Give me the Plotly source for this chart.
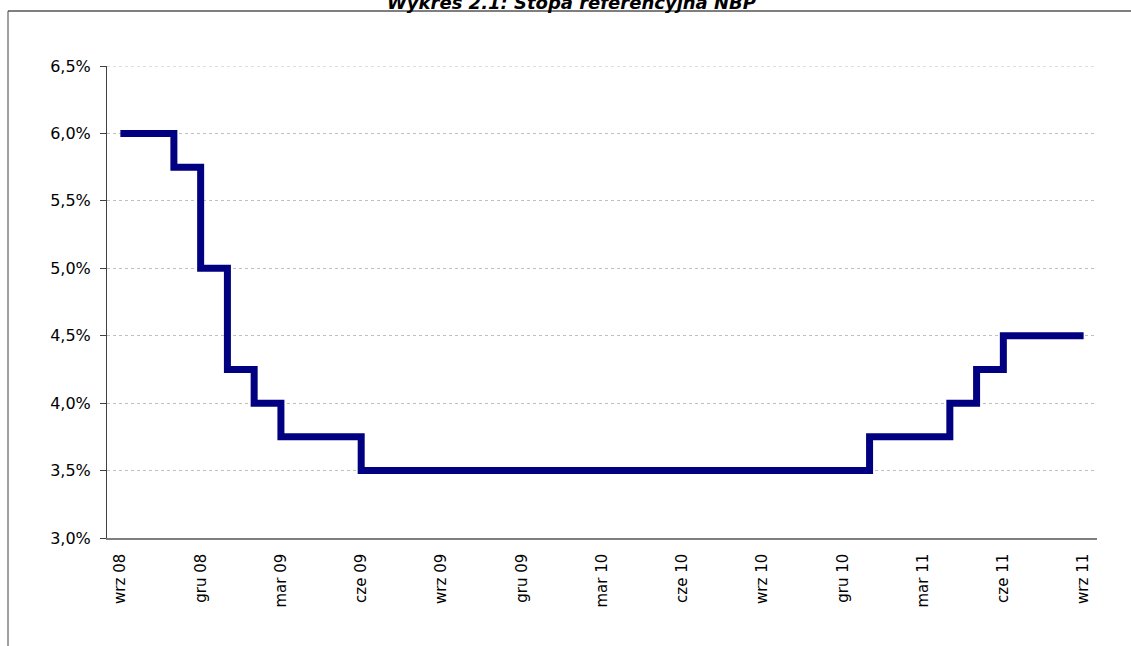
import plotly.graph_objects as go

# Monthly NBP reference rate, Sep 2008 - Sep 2011 (in %)
months = [
    "wrz 08", "paź 08", "lis 08", "gru 08",
    "sty 09", "lut 09", "mar 09", "kwi 09", "maj 09", "cze 09", "lip 09", "sie 09",
    "wrz 09", "paź 09", "lis 09", "gru 09",
    "sty 10", "lut 10", "mar 10", "kwi 10", "maj 10", "cze 10", "lip 10", "sie 10",
    "wrz 10", "paź 10", "lis 10", "gru 10",
    "sty 11", "lut 11", "mar 11", "kwi 11", "maj 11", "cze 11", "lip 11", "sie 11",
    "wrz 11",
]
rates = [
    6.00, 6.00, 5.75, 5.00,
    4.25, 4.00, 3.75, 3.75, 3.75, 3.50, 3.50, 3.50,
    3.50, 3.50, 3.50, 3.50,
    3.50, 3.50, 3.50, 3.50, 3.50, 3.50, 3.50, 3.50,
    3.50, 3.50, 3.50, 3.50,
    3.75, 3.75, 3.75, 4.00, 4.25, 4.50, 4.50, 4.50,
    4.50,
]
tick_labels = months[::3]
y_ticks = [3.0, 3.5, 4.0, 4.5, 5.0, 5.5, 6.0, 6.5]
y_tick_text = [f"{v:.1f}%".replace(".", ",") for v in y_ticks]

title_text = "Wykres 2.1: Stopa referencyjna NBP"

FONT = "DejaVu Sans"

fig = go.Figure()
fig.add_trace(go.Scatter(
    x=months,
    y=rates,
    mode="lines",
    line=dict(color="#000080", width=7, shape="hv"),
    hoverinfo="x+y",
    showlegend=False,
))

fig.update_layout(
    width=1131,
    height=646,
    margin=dict(l=107, r=34, t=66, b=108),
    paper_bgcolor="white",
    plot_bgcolor="white",
    font=dict(family=FONT, size=16, color="black"),
    xaxis=dict(
        type="category",
        categoryorder="array",
        categoryarray=months,
        range=[-0.5, len(months) - 0.5],
        tickmode="array",
        tickvals=tick_labels,
        ticktext=tick_labels,
        tickangle=-90,
        ticks="",
        showgrid=False,
        showline=True,
        linecolor="#7f7f7f",
        linewidth=1.5,
        ticklabelstandoff=8,
        tickfont=dict(family=FONT, size=15, color="black"),
        zeroline=False,
    ),
    yaxis=dict(
        range=[3.0, 6.5],
        tickmode="array",
        tickvals=y_ticks,
        ticktext=y_tick_text,
        ticks="outside",
        ticklen=6,
        tickcolor="#404040",
        tickwidth=1,
        showline=True,
        linecolor="#404040",
        linewidth=1,
        showgrid=True,
        gridcolor="#c0c0c0",
        gridwidth=1,
        griddash="dot",
        ticklabelstandoff=6,
        tickfont=dict(family=FONT, size=16, color="black"),
        zeroline=False,
    ),
    shapes=[
        # top gridline at the upper edge of the plot
        dict(type="line", xref="paper", yref="y",
             x0=0, x1=1, y0=y_ticks[-1], y1=y_ticks[-1],
             line=dict(color="#c0c0c0", width=1, dash="dot"), layer="below"),
        # outer chart frame (top and left edges)
        dict(type="line", xref="paper", yref="paper",
             x0=-0.1, x1=1.1, y0=1.1165, y1=1.1165,
             line=dict(color="#7f7f7f", width=2)),
        dict(type="line", xref="paper", yref="paper",
             x0=-0.1, x1=-0.1, y0=1.1165, y1=-0.25,
             line=dict(color="#404040", width=1)),
    ],
    annotations=[
        dict(
            text="<b><i>" + title_text + "</i></b>",
            xref="paper", yref="paper",
            x=(571 - 107) / 990, y=(538 - 15.5) / 472,
            xanchor="center", yanchor="bottom",
            showarrow=False,
            font=dict(family=FONT, size=18, color="black"),
        )
    ],
)

fig.write_html("out.html")
